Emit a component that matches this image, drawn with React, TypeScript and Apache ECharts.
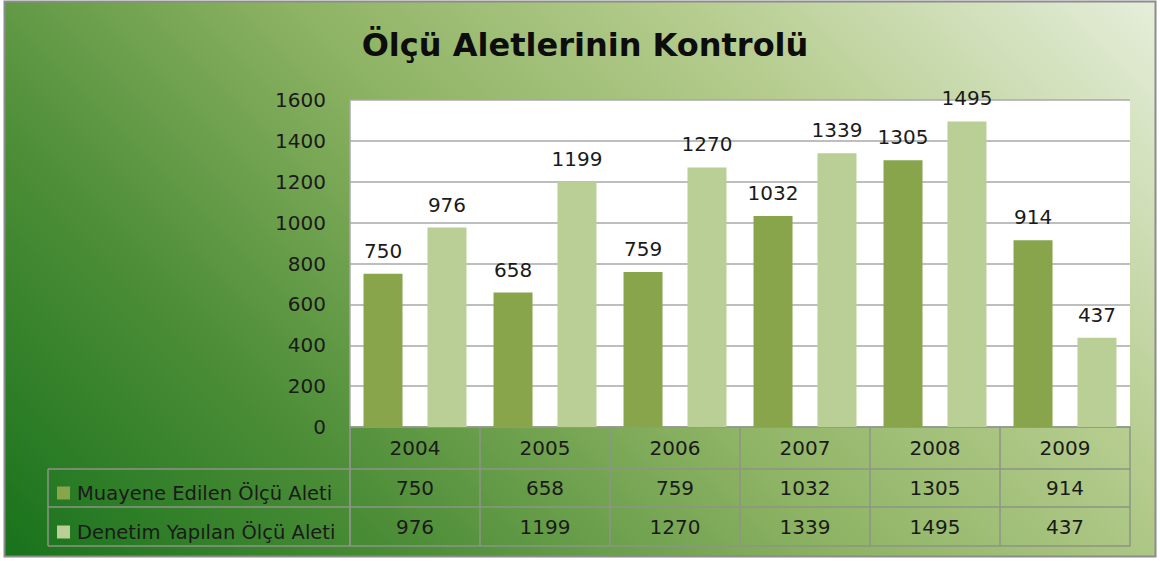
import React, { useEffect, useRef } from "react";
import * as echarts from "echarts";

const TITLE = "Ölçü Aletlerinin Kontrolü";
const YEARS = ["2004", "2005", "2006", "2007", "2008", "2009"];
const SERIES_NAMES = ["Muayene Edilen Ölçü Aleti", "Denetim Yapılan Ölçü Aleti"];
const MUAYENE = [750, 658, 759, 1032, 1305, 914];
const DENETIM = [976, 1199, 1270, 1339, 1495, 437];
const Y_TICKS = [0, 200, 400, 600, 800, 1000, 1200, 1400, 1600];

const FONT = "'DejaVu Sans', sans-serif";
const DARK = "#88a54c";
const LIGHT = "#b9cf96";
const TABLE_LINE = "#8c9488";
const TEXT = "#1a1a1a";

export default function App() {
  const ref = useRef<HTMLDivElement>(null);
  useEffect(() => {
    document.body.style.margin = "0";
    const chart = echarts.init(ref.current!, null, { renderer: "svg" });
    const tableAxis = (data: string[], offset: number, tickLen: number, margin: number, showLabel = true) => ({
      type: "category",
      position: "bottom",
      gridIndex: 0,
      data,
      offset,
      boundaryGap: true,
      axisLine: { show: true, lineStyle: { color: TABLE_LINE, width: 1.5 } },
      axisTick: { show: tickLen > 0, interval: 0, length: tickLen, lineStyle: { color: TABLE_LINE, width: 1.5 } },
      axisLabel: { show: showLabel, interval: 0, margin, fontSize: 20, color: TEXT, fontFamily: FONT },
      splitLine: { show: false },
    });
    chart.setOption({
      animation: false,
      title: {
        text: TITLE,
        left: 580,
        textAlign: "center",
        top: 24,
        textStyle: { fontSize: 32, fontWeight: "bold", color: "#0d0d0d", fontFamily: FONT },
      },
      graphic: [
        {
          type: "rect",
          z: -10,
          shape: { x: 4.5, y: 1.5, width: 1151, height: 555 },
          style: {
            fill: new echarts.graphic.LinearGradient(0, 557, 858, -301, [
              { offset: 0, color: "#17721b" },
              { offset: 0.25, color: "#4e8e38" },
              { offset: 0.5, color: "#8fb465" },
              { offset: 0.72, color: "#b5cc8e" },
              { offset: 1, color: "#e6eedb" },
            ], true),
            stroke: "#8c8c8c",
            lineWidth: 2,
          },
          silent: true,
        },
        { type: "line", shape: { x1: 48, y1: 469, x2: 350, y2: 469 }, style: { stroke: TABLE_LINE, lineWidth: 1.5 }, silent: true },
        { type: "line", shape: { x1: 48, y1: 507, x2: 350, y2: 507 }, style: { stroke: TABLE_LINE, lineWidth: 1.5 }, silent: true },
        { type: "line", shape: { x1: 48, y1: 546, x2: 350, y2: 546 }, style: { stroke: TABLE_LINE, lineWidth: 1.5 }, silent: true },
        { type: "line", shape: { x1: 48, y1: 469, x2: 48, y2: 546 }, style: { stroke: TABLE_LINE, lineWidth: 1.5 }, silent: true },
        { type: "line", shape: { x1: 350, y1: 427, x2: 350, y2: 546 }, style: { stroke: TABLE_LINE, lineWidth: 1.5 }, silent: true },
      ],
      legend: {
        orient: "vertical",
        left: 52,
        top: 478,
        itemWidth: 13,
        itemHeight: 13,
        itemGap: 19,
        icon: "rect",
        data: SERIES_NAMES,
        textStyle: { fontSize: 19.5, lineHeight: 20, color: TEXT, fontFamily: FONT, padding: [0, 0, 0, 2] },
        selectedMode: false,
      },
      grid: {
        left: 350,
        top: 100,
        width: 780,
        height: 327,
        show: true,
        backgroundColor: "#ffffff",
        borderWidth: 0,
      },
      xAxis: [
        tableAxis(YEARS, 0, 42, 11),
        tableAxis(MUAYENE.map(String), 42, 38, 9),
        tableAxis(DENETIM.map(String), 80, 39, 10),
        tableAxis(YEARS, 119, 0, 0, false),
      ],
      yAxis: {
        type: "value",
        min: Y_TICKS[0],
        max: Y_TICKS[Y_TICKS.length - 1],
        interval: 200,
        axisLine: { show: true, lineStyle: { color: "#a8a8a8", width: 1.5 } },
        axisTick: { show: false },
        axisLabel: { margin: 24, fontSize: 20, color: TEXT, fontFamily: FONT, formatter: (v: number) => String(v) },
        splitLine: { show: true, lineStyle: { color: "#a8a8a8", width: 1.5 } },
      },
      series: [
        {
          name: SERIES_NAMES[0],
          type: "bar",
          xAxisIndex: 0,
          data: MUAYENE,
          barWidth: 39,
          barGap: "64%",
          itemStyle: { color: DARK },
          label: { show: true, position: "top", distance: 13, fontSize: 20, color: TEXT, fontFamily: FONT },
        },
        {
          name: SERIES_NAMES[1],
          type: "bar",
          xAxisIndex: 0,
          data: DENETIM,
          barWidth: 39,
          barGap: "64%",
          itemStyle: { color: LIGHT },
          label: { show: true, position: "top", distance: 13, fontSize: 20, color: TEXT, fontFamily: FONT },
        },
      ],
    });
    return () => chart.dispose();
  }, []);
  return <div ref={ref} style={{ width: 1160, height: 561 }} />;
}
